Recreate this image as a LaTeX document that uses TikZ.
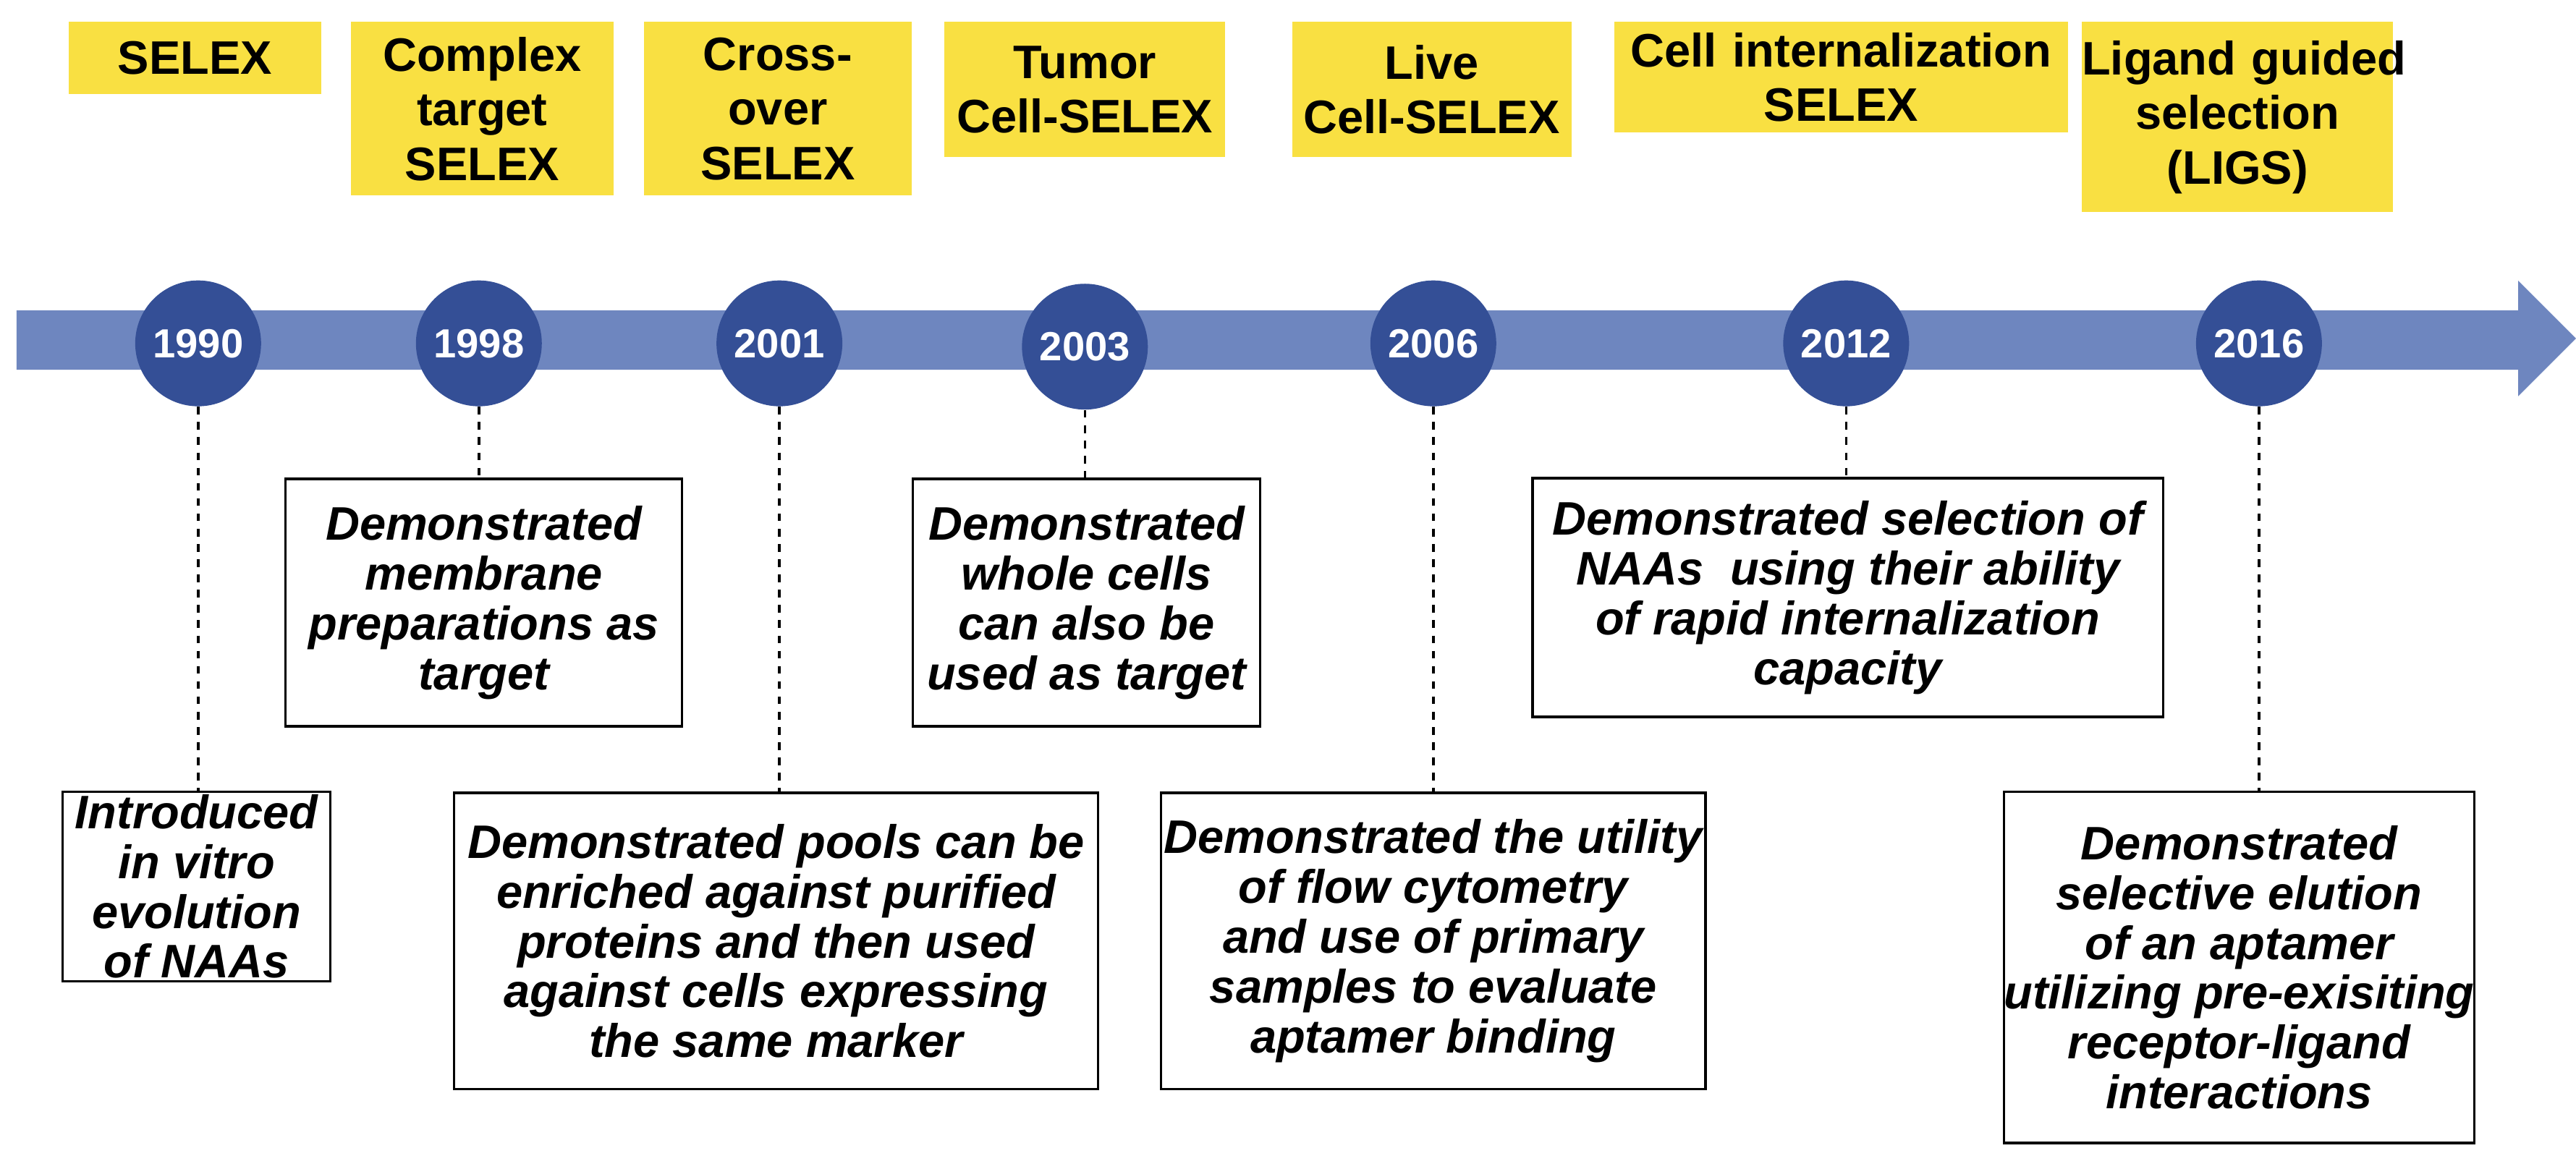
\documentclass[tikz,border=0pt]{standalone}
\usepackage{fontspec}
\setmainfont{Liberation Sans}
\usepackage{xcolor}
\usetikzlibrary{arrows.meta, positioning}
\definecolor{TimeBlue}{HTML}{6E86BF}
\definecolor{YearBlue}{HTML}{344F96}
\definecolor{TagYellow}{HTML}{F9E042}

\begin{document}
\begin{tikzpicture}[
    x=0.02282cm, y=-0.02282cm,
    tag/.style={
      fill=TagYellow, anchor=north, align=center, inner sep=0pt,
      font=\fontsize{18.5}{21.5}\selectfont\bfseries
    },
    year/.style={
      circle, fill=YearBlue, minimum size=1.74cm, inner sep=0pt,
      text=white, font=\fontsize{16}{18}\selectfont\bfseries
    },
    note/.style={
      draw, line width=1pt, fill=white, align=center, inner sep=0pt,
      font=\fontsize{18.5}{19.6}\selectfont\bfseries\itshape
    },
    link/.style={dashed, line width=1pt}
  ]
    \useasboundingbox (0,0) rectangle (1560,700);
    % timeline arrow
    \fill[TimeBlue] (10,188) -- (1525,188) -- (1525,170) -- (1560,205)
      -- (1525,240) -- (1525,224) -- (10,224) -- cycle;

    % yellow tags
    \node[tag, text width=3.49cm, minimum height=1.0cm] (t1) at (118,13) {SELEX};
    \node[tag, text width=3.63cm, minimum height=2.4cm] (t2) at (292,13) {Complex\\target\\SELEX};
    \node[tag, text width=3.7cm, minimum height=2.4cm] (t3) at (471,13) {Cross-\\over\\SELEX};
    \node[tag, text width=3.88cm, minimum height=1.87cm] (t4) at (657,13) {Tumor\\Cell-SELEX};
    \node[tag, text width=3.86cm, minimum height=1.87cm] (t5) at (867,13) {Live\\Cell-SELEX};
    \node[tag, text width=6.28cm, minimum height=1.53cm] (t6) at (1115,13) {Cell internalization\\SELEX};
    \node[tag, text width=4.3cm, minimum height=2.63cm] (t7) at (1355,13) {Ligand~guided\\selection\\(LIGS)};

    % year markers
    \node[year] (c1990) at (120,208) {1990};
    \node[year] (c1998) at (290,208) {1998};
    \node[year] (c2001) at (472,208) {2001};
    \node[year] (c2003) at (657,210) {2003};
    \node[year] (c2006) at (868,208) {2006};
    \node[year] (c2012) at (1118,208) {2012};
    \node[year] (c2016) at (1368,208) {2016};

    % description boxes
    \node[note, minimum width=3.7cm, minimum height=2.62cm] (d1990) at (119,537)
      {Introduced\\in vitro\\evolution\\of NAAs};
    \node[note, minimum width=5.48cm, minimum height=3.42cm] (d1998) at (293,365)
      {Demonstrated\\membrane\\preparations as\\target};
    \node[note, minimum width=8.9cm, minimum height=4.1cm] (d2001) at (470,570)
      {Demonstrated pools can be\\enriched against purified\\proteins and then used\\against cells expressing\\the same marker};
    \node[note, minimum width=4.8cm, minimum height=3.42cm] (d2003) at (658,365)
      {Demonstrated\\whole cells\\can also be\\used as target};
    \node[note, minimum width=7.53cm, minimum height=4.1cm] (d2006) at (868,570)
      {Demonstrated the utility\\of flow cytometry\\and use of primary\\samples to evaluate\\aptamer binding};
    \node[note, minimum width=8.72cm, minimum height=3.3cm] (d2012) at (1119,362)
      {Demonstrated selection of\\NAAs\ \ using their ability\\of rapid internalization\\capacity};
    \node[note, minimum width=6.34cm, minimum height=4.86cm] (d2016) at (1356,586)
      {Demonstrated\\selective elution\\of an aptamer\\utilizing pre-exisiting\\receptor-ligand\\interactions};

    % dashed connectors
    \draw[link] (c1990.south) -- (c1990.south |- d1990.north);
    \draw[link] (c1998.south) -- (c1998.south |- d1998.north);
    \draw[link] (c2001.south) -- (c2001.south |- d2001.north);
    \draw[link] (c2003.south) -- (c2003.south |- d2003.north);
    \draw[link] (c2006.south) -- (c2006.south |- d2006.north);
    \draw[link] (c2012.south) -- (c2012.south |- d2012.north);
    \draw[link] (c2016.south) -- (c2016.south |- d2016.north);
  \end{tikzpicture}
\end{document}
